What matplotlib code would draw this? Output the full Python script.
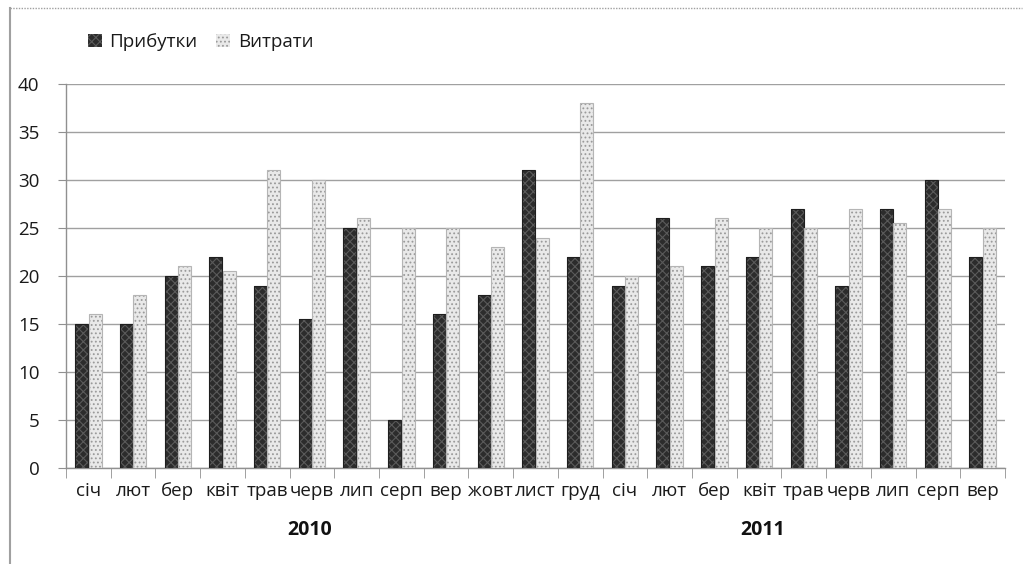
import matplotlib
matplotlib.use("Agg")
import matplotlib.pyplot as plt
import numpy as np
from matplotlib.lines import Line2D
from matplotlib.patches import Patch

months = ["січ", "лют", "бер", "квіт", "трав", "черв", "лип", "серп", "вер", "жовт", "лист", "груд",
          "січ", "лют", "бер", "квіт", "трав", "черв", "лип", "серп", "вер"]
income = [15, 15, 20, 22, 19, 15.5, 25, 5, 16, 18, 31, 22,
          19, 26, 21, 22, 27, 19, 27, 30, 22]
expenses = [16, 18, 21, 20.5, 31, 30, 26, 25, 25, 23, 24, 38,
            20, 21, 26, 25, 25, 27, 25.5, 27, 25]
years = ["2010", "2011"]
series_names = ["Прибутки", "Витрати"]

plt.rcParams['font.family'] = ['Open Sans', 'DejaVu Sans']
plt.rcParams['hatch.linewidth'] = 0.8

fig = plt.figure(figsize=(10.24, 5.64), dpi=100)
ax = fig.add_axes([66/1024, 96/564, 939/1024, 384/564])

x = np.arange(len(months))
w = 0.29
dark_face, dark_hatch = '#2c2c2c', '#5a5a5a'
light_face, light_hatch = '#e9e9e9', '#9a9a9a'
ax.bar(x - 0.15, income, w, color=dark_face, edgecolor=dark_hatch, linewidth=0,
       hatch='xxxx', zorder=3)
ax.bar(x - 0.15, income, w, fill=False, edgecolor='#1e1e1e', linewidth=0.8, zorder=4)
ax.bar(x + 0.15, expenses, w, color=light_face, edgecolor=light_hatch, linewidth=0,
       hatch='....', zorder=3)
ax.bar(x + 0.15, expenses, w, fill=False, edgecolor='#b5b5b5', linewidth=0.8, zorder=4)

ax.set_xlim(-0.5, len(months) - 0.5)
ax.set_ylim(0, 40)
ax.set_yticks(range(0, 41, 5))
ax.yaxis.grid(True, color='#a0a0a0', linewidth=1.0, zorder=0)
ax.set_axisbelow(True)

ax.set_xticks(x)
ax.set_xticklabels(months, fontsize=13.5, color='#1a1a1a')
ax.tick_params(axis='x', length=0, pad=10)
ax.set_xticks(np.arange(-0.5, len(months)), minor=True)
ax.tick_params(axis='x', which='minor', length=7, color='#909090', direction='out')
ax.tick_params(axis='y', length=6, color='#909090', labelsize=13.5, labelcolor='#1a1a1a', pad=13)

for s in ['top', 'right']:
    ax.spines[s].set_visible(False)
for s in ['left', 'bottom']:
    ax.spines[s].set_color('#909090')
    ax.spines[s].set_linewidth(1.0)

ax.text(4.96, -0.161, years[0], transform=ax.get_xaxis_transform(), ha='center', va='center',
        fontsize=14, fontweight='bold', color='#111111')
ax.text(15.07, -0.161, years[1], transform=ax.get_xaxis_transform(), ha='center', va='center',
        fontsize=14, fontweight='bold', color='#111111')

handles = [Patch(facecolor=dark_face, edgecolor=dark_hatch, hatch='xxxx', linewidth=0),
           Patch(facecolor=light_face, edgecolor=light_hatch, hatch='....', linewidth=0)]
fig.legend(handles, series_names, loc='center left', bbox_to_anchor=(71/1024, 1 - 42/564),
           ncol=2, frameon=False, fontsize=13.5, handlelength=0.75, handleheight=0.7,
           handletextpad=0.4, columnspacing=1.0, labelcolor='#1a1a1a')

# outer frame
fig.add_artist(Line2D([10/1024, 1022/1024], [1 - 8/564, 1 - 8/564], transform=fig.transFigure,
                      color='#a0a0a0', linewidth=1, linestyle=(0, (1, 1))))
fig.add_artist(Line2D([10/1024, 10/1024], [1 - 8/564, 0], transform=fig.transFigure,
                      color='#a0a0a0', linewidth=1.5))

fig.savefig("out.png", dpi=100)
